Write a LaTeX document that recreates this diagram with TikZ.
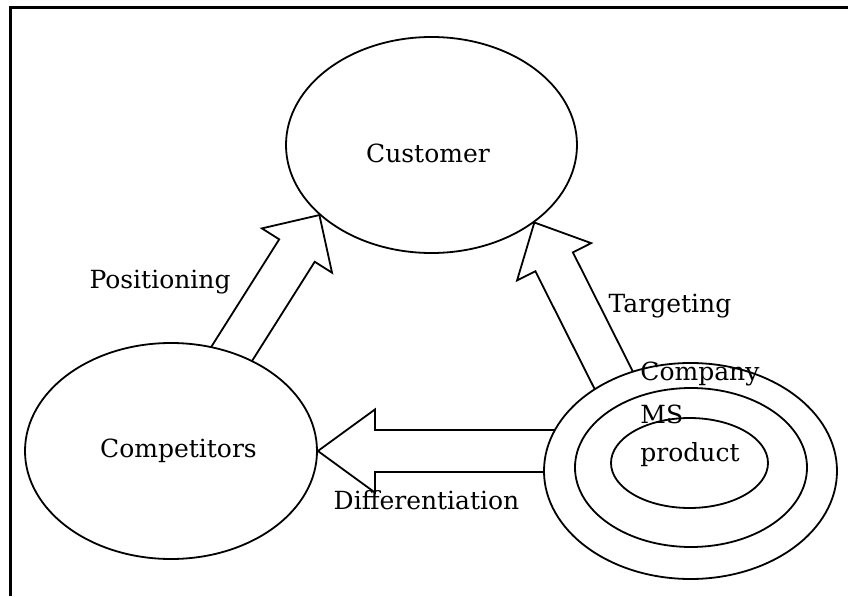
\documentclass[tikz,border=0pt]{standalone}
\usepackage{fontspec}
\setmainfont{DejaVu Serif}
\usetikzlibrary{shapes.geometric,calc,backgrounds}

\tikzset{
  blob/.style={ellipse, draw, fill=white, line width=0.9pt, inner sep=0pt},
  lbl/.style={font=\fontsize{12.5}{15}\selectfont, inner sep=0pt, anchor=base},
  arrowline/.style={draw, fill=white, line width=0.9pt, line join=miter},
}

% hollow block arrow from #1 to #2, head length #3
\newcommand{\blockarrow}[3]{%
  \coordinate (ba-t) at ($(#1)!-8pt!(#2)$);
  \coordinate (ba-b) at ($(#2)!#3!(#1)$);
  \draw[arrowline] ($(ba-t)!10.5pt!90:(#2)$) -- ($(ba-b)!10.5pt!90:(#2)$)
    -- ($(ba-b)!20.75pt!90:(#2)$) -- (#2) -- ($(ba-b)!20.75pt!-90:(#2)$)
    -- ($(ba-b)!10.5pt!-90:(#2)$) -- ($(ba-t)!10.5pt!-90:(#2)$);
}

\begin{document}
\begin{tikzpicture}[x=0.5pt, y=0.5pt]
    \useasboundingbox (0,0) rectangle (848,596);
    \draw[line width=1.5pt] (10,0) -- (10,588) -- (848,588);

    % the three parties
    \node[blob, minimum width=145.5pt, minimum height=108pt] (cust) at (431.5,451) {};
    \node[blob, minimum width=146pt, minimum height=108pt] (comp) at (171,145) {};
    \node[blob, minimum width=146.5pt, minimum height=108pt] (firm) at (690.5,125) {};
    \node[blob, minimum width=116pt, minimum height=79.5pt] (ms) at (691,128.5) {};
    \node[blob, minimum width=78.5pt, minimum height=45pt] (prod) at (689.5,133) {};

    \node[lbl] (custtxt) at (428,433) {Customer};
    \node[lbl] (comptxt) at (178.5,139) {Competitors};
    \node[lbl, anchor=base west] (firmtxt) at (640,216) {Company};
    \node[lbl, anchor=base west] (mstxt) at (640,173) {MS};
    \node[lbl, anchor=base west] (prodtxt) at (640,134) {product};

    % arrows between them
    \begin{scope}[on background layer]
        \blockarrow{comp.58}{cust.212}{21pt}
        \blockarrow{firm.130}{cust.323}{22pt}
        \coordinate (dtail) at (comp.east -| firm.west);
        \blockarrow{dtail}{comp.east}{28.5pt}
    \end{scope}

    \node[lbl] (postxt) at (160,307) {Positioning};
    \node[lbl] (tartxt) at (670,284) {Targeting};
    \node[lbl] (diftxt) at (426.5,87) {Differentiation};
\end{tikzpicture}
\end{document}
